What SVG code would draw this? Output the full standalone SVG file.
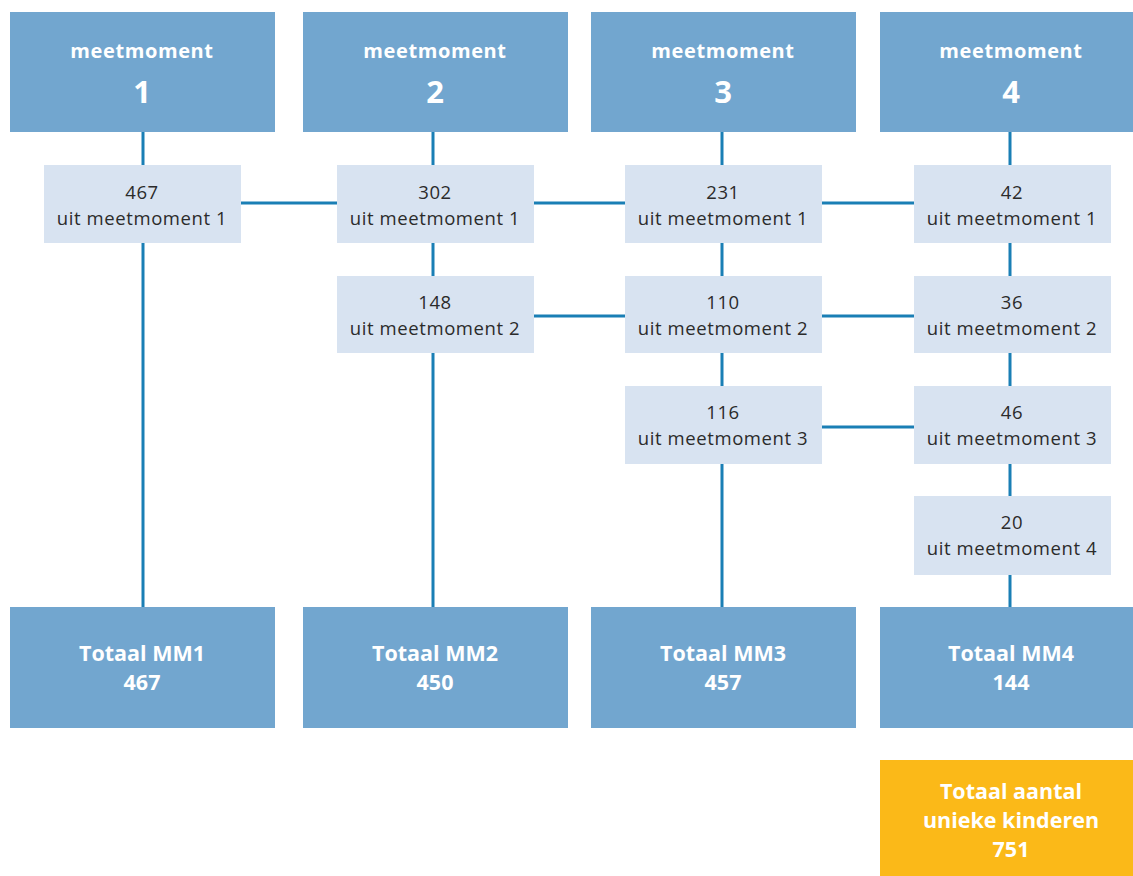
<svg xmlns="http://www.w3.org/2000/svg" width="1133" height="876" viewBox="0 0 1133 876">
<style>
.hdr{fill:#72a6cf}
.sub{fill:#d8e3f1}
.gold{fill:#fbb918}
.wt{fill:#ffffff;font-family:"Open Sans","Lato",sans-serif;font-weight:bold;text-anchor:middle}
.h1{font-size:20px;letter-spacing:0.6px}
.h2{font-size:31px}
.tt{font-size:21.5px}
.dt{fill:#2b2b2b;font-family:"Open Sans","Lato",sans-serif;font-size:18.5px;letter-spacing:0.6px;text-anchor:middle}
.ln{stroke:#1a7fb5;stroke-width:3;fill:none}
</style>
<rect width="1133" height="876" fill="#ffffff"/>
<g id="connectors">
<line class="ln" x1="143" y1="132" x2="143" y2="607"/>
<line class="ln" x1="433" y1="132" x2="433" y2="607"/>
<line class="ln" x1="722" y1="132" x2="722" y2="607"/>
<line class="ln" x1="1010" y1="132" x2="1010" y2="607"/>
<line class="ln" x1="241" y1="203" x2="914" y2="203"/>
<line class="ln" x1="534" y1="316" x2="914" y2="316"/>
<line class="ln" x1="822" y1="427" x2="914" y2="427"/>
</g>
<g id="mm1"><rect class="hdr" x="10" y="12" width="265" height="120"/><text class="wt h1" x="142" y="58">meetmoment</text><text class="wt h2" x="142" y="103">1</text></g>
<g id="mm2"><rect class="hdr" x="303" y="12" width="265" height="120"/><text class="wt h1" x="435" y="58">meetmoment</text><text class="wt h2" x="435" y="103">2</text></g>
<g id="mm3"><rect class="hdr" x="591" y="12" width="265" height="120"/><text class="wt h1" x="723" y="58">meetmoment</text><text class="wt h2" x="723" y="103">3</text></g>
<g id="mm4"><rect class="hdr" x="880" y="12" width="265" height="120"/><text class="wt h1" x="1011" y="58">meetmoment</text><text class="wt h2" x="1011" y="103">4</text></g>

<g id="c1r1"><rect class="sub" x="44" y="165" width="197" height="78"/><text class="dt" x="142" y="199">467</text><text class="dt" x="142" y="225">uit meetmoment 1</text></g>
<g id="c2r1"><rect class="sub" x="337" y="165" width="197" height="78"/><text class="dt" x="435" y="199">302</text><text class="dt" x="435" y="225">uit meetmoment 1</text></g>
<g id="c3r1"><rect class="sub" x="625" y="165" width="197" height="78"/><text class="dt" x="723" y="199">231</text><text class="dt" x="723" y="225">uit meetmoment 1</text></g>
<g id="c4r1"><rect class="sub" x="914" y="165" width="197" height="78"/><text class="dt" x="1012" y="199">42</text><text class="dt" x="1012" y="225">uit meetmoment 1</text></g>

<g id="c2r2"><rect class="sub" x="337" y="276" width="197" height="77"/><text class="dt" x="435" y="309">148</text><text class="dt" x="435" y="335">uit meetmoment 2</text></g>
<g id="c3r2"><rect class="sub" x="625" y="276" width="197" height="77"/><text class="dt" x="723" y="309">110</text><text class="dt" x="723" y="335">uit meetmoment 2</text></g>
<g id="c4r2"><rect class="sub" x="914" y="276" width="197" height="77"/><text class="dt" x="1012" y="309">36</text><text class="dt" x="1012" y="335">uit meetmoment 2</text></g>

<g id="c3r3"><rect class="sub" x="625" y="386" width="197" height="78"/><text class="dt" x="723" y="419">116</text><text class="dt" x="723" y="445">uit meetmoment 3</text></g>
<g id="c4r3"><rect class="sub" x="914" y="386" width="197" height="78"/><text class="dt" x="1012" y="419">46</text><text class="dt" x="1012" y="445">uit meetmoment 3</text></g>

<g id="c4r4"><rect class="sub" x="914" y="496" width="197" height="79"/><text class="dt" x="1012" y="529">20</text><text class="dt" x="1012" y="555">uit meetmoment 4</text></g>

<g id="tot1"><rect class="hdr" x="10" y="607" width="265" height="121"/><text class="wt tt" x="142" y="661">Totaal MM1</text><text class="wt tt" x="142" y="690">467</text></g>
<g id="tot2"><rect class="hdr" x="303" y="607" width="265" height="121"/><text class="wt tt" x="435" y="661">Totaal MM2</text><text class="wt tt" x="435" y="690">450</text></g>
<g id="tot3"><rect class="hdr" x="591" y="607" width="265" height="121"/><text class="wt tt" x="723" y="661">Totaal MM3</text><text class="wt tt" x="723" y="690">457</text></g>
<g id="tot4"><rect class="hdr" x="880" y="607" width="265" height="121"/><text class="wt tt" x="1011" y="661">Totaal MM4</text><text class="wt tt" x="1011" y="690">144</text></g>

<g id="unique"><rect class="gold" x="880" y="760" width="265" height="116"/><text class="wt tt" x="1011" y="799">Totaal aantal</text><text class="wt tt" x="1011" y="828">unieke kinderen</text><text class="wt tt" x="1011" y="857">751</text></g>
</svg>
